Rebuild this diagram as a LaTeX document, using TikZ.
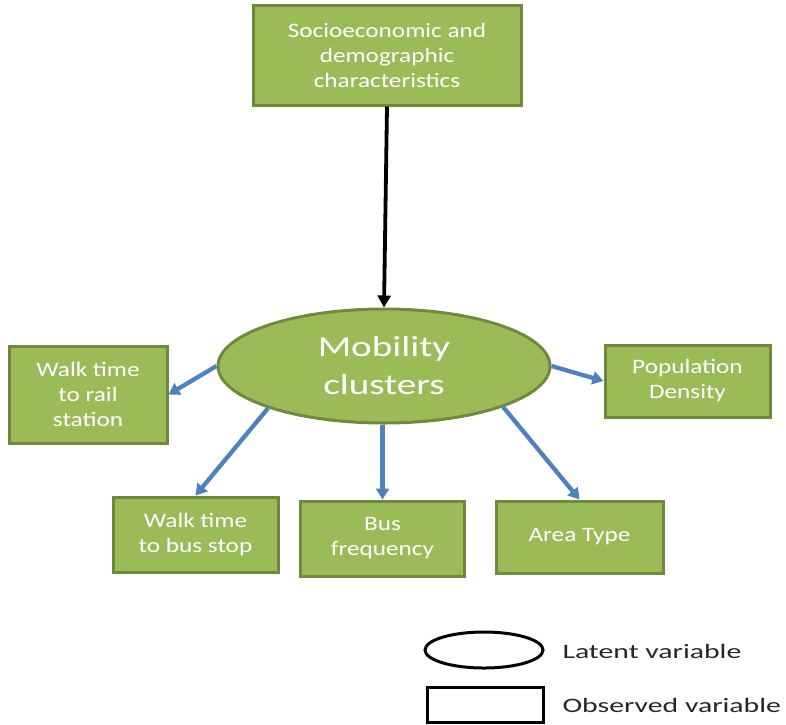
\documentclass[tikz,border=0pt]{standalone}
\usepackage{fontspec}
\setmainfont{Carlito}
\newfontfamily\boxfont[FakeStretch=1.23]{Carlito}
\newfontfamily\latentfont[FakeStretch=1.35]{Carlito}
\newfontfamily\keyfont[FakeStretch=1.45]{Carlito}
\usetikzlibrary{shapes.geometric,arrows.meta}
\definecolor{boxfill}{HTML}{9BBB59}
\definecolor{boxline}{HTML}{71893F}
\definecolor{linkblue}{HTML}{4F81BD}
\begin{document}
\begin{tikzpicture}[x=1pt,y=-1pt,
  obsbox/.style={draw=boxline,fill=boxfill,line width=3pt,rectangle,
    inner sep=0pt,align=center,text=white,
    font=\boxfont\fontsize{20.5}{25}\selectfont},
  latent/.style={draw=boxline,fill=boxfill,line width=3pt,ellipse,
    inner sep=0pt,align=center,text=white,
    font=\latentfont\fontsize{29}{38}\selectfont},
  link/.style={draw=linkblue,line width=4.3pt,
    -{Triangle[length=11pt,width=13pt]}},
  cause/.style={draw=black,line width=3.8pt,
    -{Triangle[length=12pt,width=13pt]}},
  legendtext/.style={anchor=west,text=black!85,
    font=\keyfont\fontsize{20.5}{24}\selectfont}]
\useasboundingbox (0,0) rectangle (786,724);

% observed variables
\node[obsbox,minimum width=268pt,minimum height=100pt] (socio) at (387,55)
  {Socioeconomic and\\demographic\\characteristics};
\node[obsbox,minimum width=158pt,minimum height=97pt] (rail) at (88,394.5)
  {Walk time\\to rail\\station};
\node[obsbox,minimum width=165pt,minimum height=75pt] (busstop) at (195.5,534.5)
  {Walk time\\to bus stop};
\node[obsbox,minimum width=164pt,minimum height=75pt] (busfreq) at (382.5,538.5)
  {Bus\\frequency};
\node[obsbox,minimum width=167pt,minimum height=72pt] (area) at (579.5,537)
  {Area Type};
\node[obsbox,minimum width=165pt,minimum height=72pt] (pop) at (687.5,381)
  {Population\\Density};

% latent variable
\node[latent,minimum width=332pt,minimum height=114pt] (mob) at (384,366)
  {Mobility\\clusters};

% paths
\draw[cause] (socio.south) -- (mob.north);
\draw[link] (mob.west) -- (rail.east);
\draw[link] (mob.200) -- (busstop.north);
\draw[link] (mob.south -| busfreq.north) -- (busfreq.north);
\draw[link] (mob.341) -- (area.north);
\draw[link] (mob.east) -- (pop.west);

% legend
\node[draw=black,line width=3pt,ellipse,minimum width=118pt,minimum height=36pt,
  inner sep=0pt] (legell) at (484,650) {};
\node[draw=black,line width=3pt,rectangle,minimum width=116pt,minimum height=35pt,
  inner sep=0pt] (legbox) at (485,704.5) {};
\node[legendtext] (legell-t) at (559,651) {Latent variable};
\node[legendtext] (legbox-t) at (559,705) {Observed variable};
\end{tikzpicture}
\end{document}
